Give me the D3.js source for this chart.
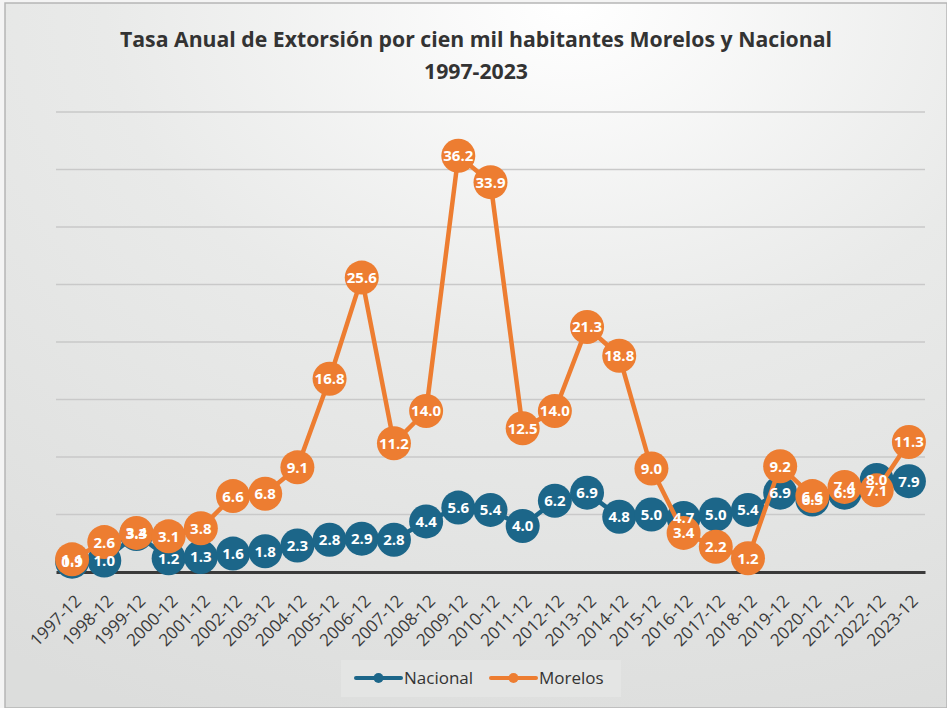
<!DOCTYPE html>
<html>
<head>
<meta charset="utf-8">
<script src="https://cdn.jsdelivr.net/npm/d3@7"></script>
<style>
    body { margin: 0; background: #fff; }
    svg { display: block; font-family: 'Open Sans', sans-serif; }
</style>
</head>
<body>
<div id="chart"></div>
<script>
const years = ['1997-12', '1998-12', '1999-12', '2000-12', '2001-12', '2002-12', '2003-12', '2004-12', '2005-12',
    '2006-12', '2007-12', '2008-12', '2009-12', '2010-12', '2011-12', '2012-12', '2013-12', '2014-12', '2015-12',
    '2016-12', '2017-12', '2018-12', '2019-12', '2020-12', '2021-12', '2022-12', '2023-12']
const nacional = [0.9, 1.0, 3.3, 1.2, 1.3, 1.6, 1.8, 2.3, 2.8, 2.9, 2.8, 4.4, 5.6, 5.4, 4.0, 6.2, 6.9, 4.8, 5.0,
    4.7, 5.0, 5.4, 6.9, 6.3, 6.9, 8.0, 7.9]
const morelos = [1.1, 2.6, 3.4, 3.1, 3.8, 6.6, 6.8, 9.1, 16.8, 25.6, 11.2, 14.0, 36.2, 33.9, 12.5, 14.0, 21.3, 18.8, 9.0,
    3.4, 2.2, 1.2, 9.2, 6.6, 7.4, 7.1, 11.3]
const gridValues = [5, 10, 15, 20, 25, 30, 35, 40]

const width = 947
const height = 708
const plotLeft = 56
const plotRight = 925
const plotBottom = 572
const plotTop = 112

const series = [
    { name: 'Nacional', values: nacional, color: '#1c6689' },
    { name: 'Morelos', values: morelos, color: '#ed7d31' }
]

const svg = d3.select('#chart')
    .append('svg')
    .attr('width', width)
    .attr('height', height)

const defs = svg.append('defs')
const grad = defs.append('radialGradient')
    .attr('id', 'bg')
    .attr('cx', '60%').attr('cy', '0%').attr('r', '110%')
grad.append('stop').attr('offset', '0%').attr('stop-color', '#ffffff')
grad.append('stop').attr('offset', '45%').attr('stop-color', '#e9eae9')
grad.append('stop').attr('offset', '100%').attr('stop-color', '#dcdddc')

svg.append('rect').attr('width', width).attr('height', height).attr('fill', '#f4f4f4')
svg.append('rect')
    .attr('x', 5).attr('y', 3)
    .attr('width', width - 5).attr('height', height - 3)
    .attr('fill', 'url(#bg)')
    .attr('stroke', '#b5b5b5')
    .attr('stroke-width', 1.5)

// title
svg.append('text')
    .attr('x', 476).attr('y', 47)
    .attr('text-anchor', 'middle')
    .attr('font-size', 22)
    .attr('font-weight', 700)
    .attr('fill', '#333')
    .attr('textLength', 712)
    .attr('lengthAdjust', 'spacingAndGlyphs')
    .text('Tasa Anual de Extorsión por cien mil habitantes Morelos y Nacional')
svg.append('text')
    .attr('x', 476).attr('y', 79)
    .attr('text-anchor', 'middle')
    .attr('font-size', 22)
    .attr('font-weight', 700)
    .attr('fill', '#333')
    .attr('textLength', 104)
    .attr('lengthAdjust', 'spacingAndGlyphs')
    .text('1997-2023')

const x = d3.scaleBand().domain(years).range([plotLeft, plotRight])
const y = d3.scaleLinear().domain([0, 40]).range([plotBottom, plotTop])

// gridlines
svg.append('g')
    .selectAll('line')
    .data(gridValues)
    .enter()
    .append('line')
    .attr('x1', plotLeft).attr('x2', plotRight)
    .attr('y1', (d) => y(d)).attr('y2', (d) => y(d))
    .attr('stroke', '#c9c9c9')
    .attr('stroke-width', 1.5)

// x axis
const xAxis = d3.axisBottom(x).tickSize(0).tickPadding(0)
const gx = svg.append('g')
    .attr('transform', `translate(0, ${plotBottom})`)
    .call(xAxis)
gx.select('.domain').attr('stroke', '#3a3a3a').attr('stroke-width', 3)
gx.selectAll('text')
    .attr('font-size', 17)
    .attr('fill', '#3a3a3a')
    .attr('font-family', 'Open Sans, sans-serif')
    .attr('text-anchor', 'end')
    .attr('dy', '0.35em')
    .attr('y', 0)
    .attr('transform', 'translate(6, 26) rotate(-45)')

const cx = (i) => x(years[i]) + x.bandwidth() / 2
const line = d3.line().x((d, i) => cx(i)).y((d) => y(d))

series.forEach((s) => {
    const g = svg.append('g')
    g.append('path')
        .datum(s.values)
        .attr('d', line)
        .attr('fill', 'none')
        .attr('stroke', s.color)
        .attr('stroke-width', 4.5)
        .attr('stroke-linejoin', 'round')
    g.selectAll('circle')
        .data(s.values)
        .enter()
        .append('circle')
        .attr('cx', (d, i) => cx(i))
        .attr('cy', (d) => y(d))
        .attr('r', 17)
        .attr('fill', s.color)
})

series.forEach((s) => {
    svg.append('g')
        .selectAll('text')
        .data(s.values)
        .enter()
        .append('text')
        .attr('x', (d, i) => cx(i))
        .attr('y', (d) => y(d))
        .attr('dy', '0.36em')
        .attr('text-anchor', 'middle')
        .attr('font-size', 15)
        .attr('font-weight', 700)
        .attr('fill', '#fff')
        .text((d) => d.toFixed(1))
})

// legend
const legend = svg.append('g')
legend.append('rect')
    .attr('x', 341).attr('y', 660)
    .attr('width', 280).attr('height', 37)
    .attr('fill', '#e4e5e4')
const items = legend.selectAll('g.item')
    .data(series)
    .enter()
    .append('g')
    .attr('transform', (d, i) => `translate(${356 + i * 135}, 678)`)
items.append('line')
    .attr('x1', 0).attr('x2', 45)
    .attr('stroke', (d) => d.color)
    .attr('stroke-width', 4)
    .attr('stroke-linecap', 'round')
items.append('circle')
    .attr('cx', 22.5).attr('r', 5)
    .attr('fill', (d) => d.color)
items.append('text')
    .attr('x', 48).attr('dy', '0.35em')
    .attr('font-size', 17)
    .attr('fill', '#333')
    .text((d) => d.name)
</script>
</body>
</html>
